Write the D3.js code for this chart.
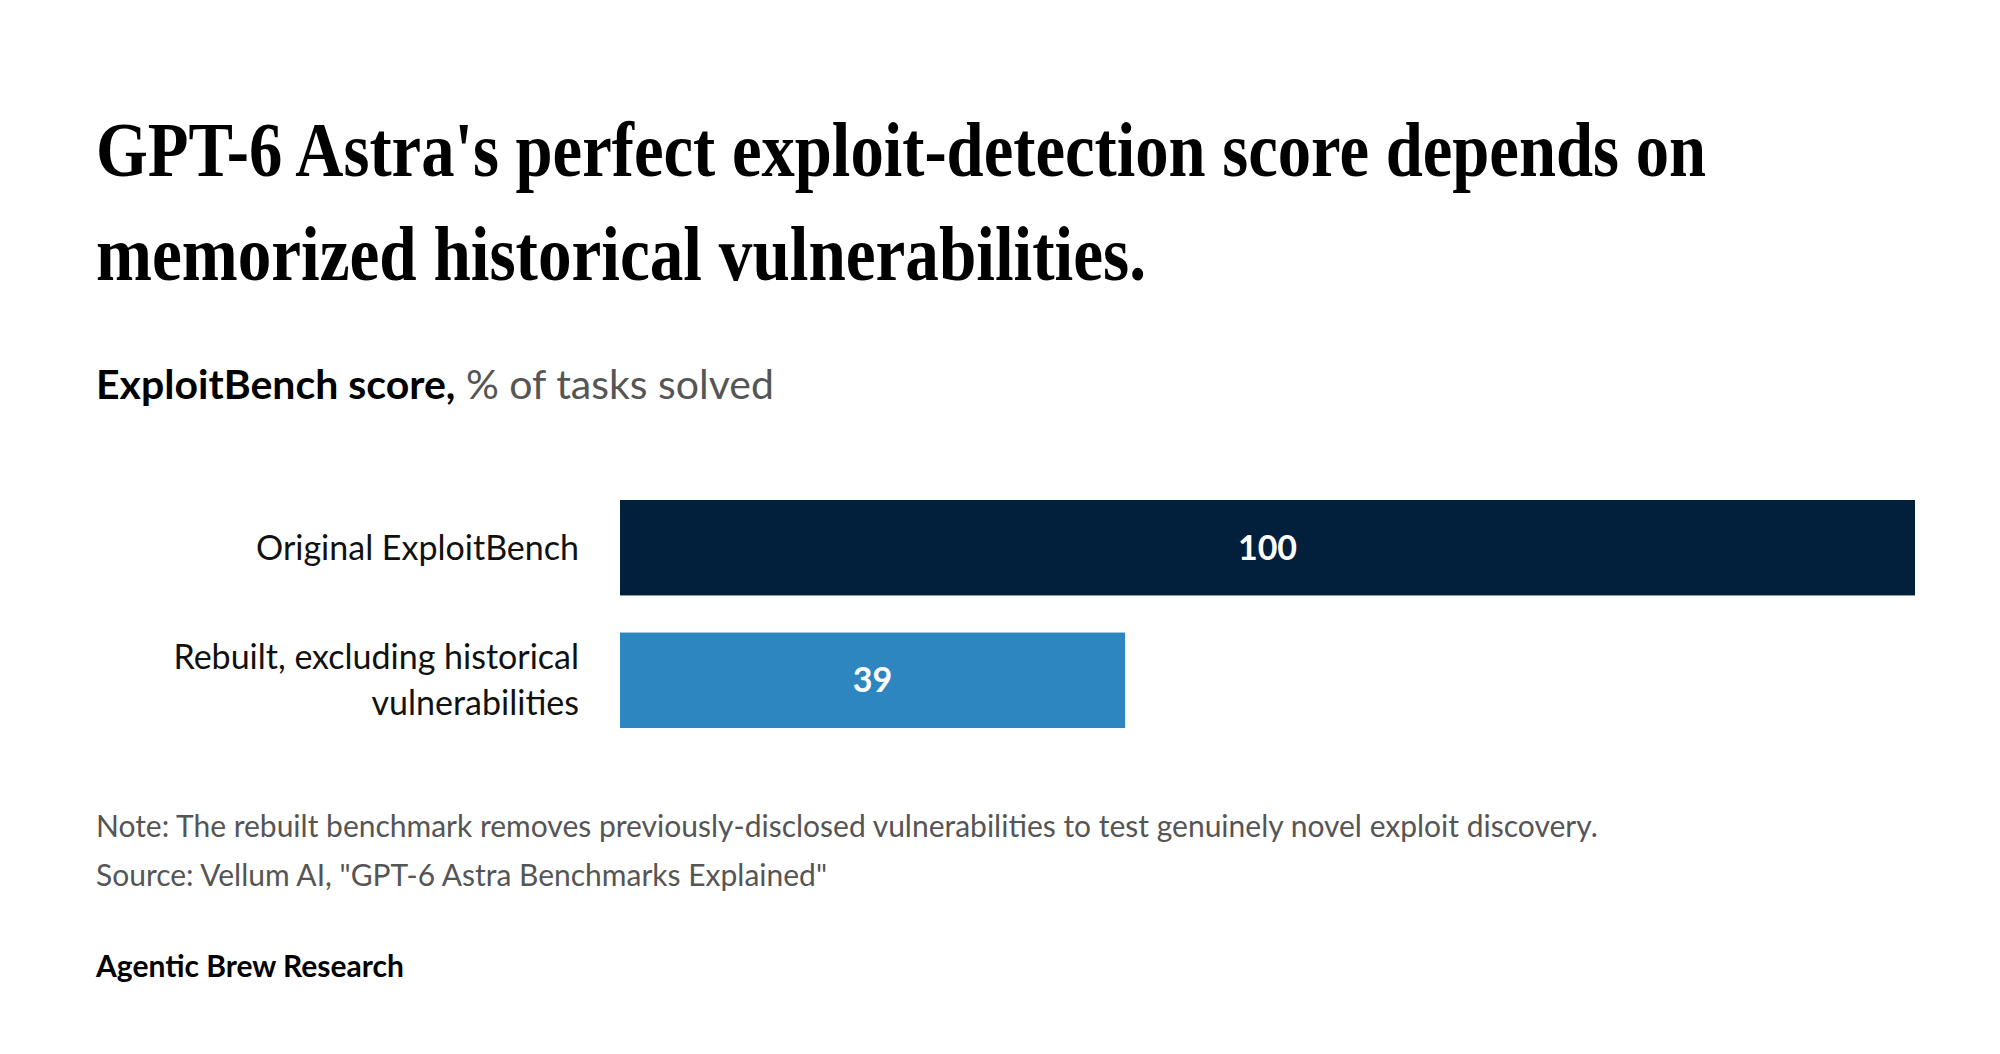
<!DOCTYPE html><html><head><meta charset="utf-8"><script src="https://cdn.jsdelivr.net/npm/d3@7"></script>
<style>body{margin:0;background:#fff}</style></head><body><svg id="c" width="2000" height="1054"></svg>
<script>
const categories=["Original ExploitBench","Rebuilt, excluding historical|vulnerabilities"];
const values=[100,39];
const colors=["#02203c","#2e86c1"];
const svg=d3.select("#c");
const sans="Lato, 'Open Sans', sans-serif";
const t=svg.append("g").attr("font-family","'Liberation Serif', serif").attr("font-weight","bold").attr("font-size",78).attr("fill","#000");
t.append("text").attr("x",96).attr("y",176).attr("textLength",1610).attr("lengthAdjust","spacingAndGlyphs").text("GPT-6 Astra's perfect exploit-detection score depends on");
t.append("text").attr("x",96).attr("y",280).attr("textLength",1050).attr("lengthAdjust","spacingAndGlyphs").text("memorized historical vulnerabilities.");
const st=svg.append("text").attr("x",96).attr("y",399).attr("font-family",sans).attr("font-size",41);
st.append("tspan").attr("font-weight","bold").attr("fill","#000").text("ExploitBench score,");
st.append("tspan").attr("fill","#555").text(" % of tasks solved");
const x=d3.scaleLinear().domain([0,100]).range([620,1915]);
const y=d3.scaleBand().domain(categories).range([500,728]).paddingInner(0.28);
svg.selectAll("rect.b").data(categories).join("rect").attr("x",x(0)).attr("y",d=>y(d)).attr("height",y.bandwidth()).attr("width",(d,i)=>x(values[i])-x(0)).attr("fill",(d,i)=>colors[i]);
svg.selectAll("text.v").data(categories).join("text").attr("x",(d,i)=>(x(0)+x(values[i]))/2).attr("y",d=>y(d)+y.bandwidth()/2+12).attr("text-anchor","middle").attr("font-family",sans).attr("font-weight","bold").attr("font-size",34).attr("fill","#fff").text((d,i)=>values[i]);
categories.forEach(c=>{const parts=c.split("|");const cy=y(c)+y.bandwidth()/2;
 parts.forEach((p,j)=>svg.append("text").attr("x",579).attr("y",cy+12+(j-(parts.length-1)/2)*46).attr("text-anchor","end").attr("font-family",sans).attr("font-size",34).attr("fill","#111").text(p));});
svg.append("text").attr("x",96).attr("y",837).attr("font-family",sans).attr("font-size",30).attr("fill","#555").text("Note: The rebuilt benchmark removes previously-disclosed vulnerabilities to test genuinely novel exploit discovery.");
svg.append("text").attr("x",96).attr("y",886).attr("font-family",sans).attr("font-size",30).attr("fill","#555").text("Source: Vellum AI, \"GPT-6 Astra Benchmarks Explained\"");
svg.append("text").attr("x",96).attr("y",977).attr("font-family",sans).attr("font-weight","bold").attr("font-size",30).attr("fill","#000").text("Agentic Brew Research");
</script></body></html>
